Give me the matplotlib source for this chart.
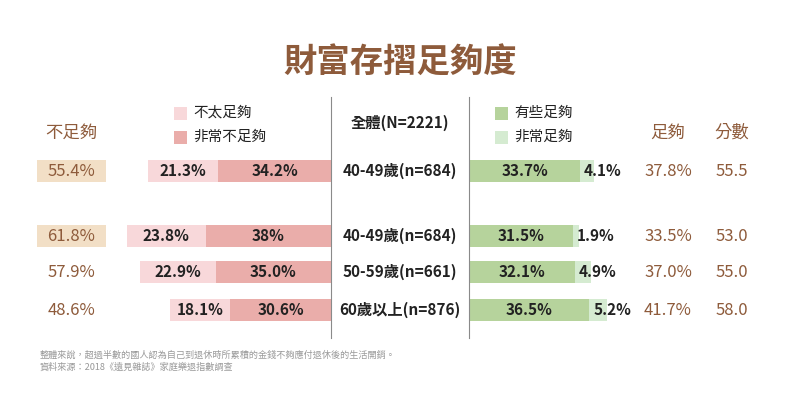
import matplotlib.pyplot as plt
from matplotlib.patches import Rectangle
from matplotlib.transforms import blended_transform_factory

plt.rcParams['font.family'] = ['Noto Sans CJK TC', 'DejaVu Sans']

# datos
grupos = ['40-49歲(n=684)', '40-49歲(n=684)', '50-59歲(n=661)', '60歲以上(n=876)']
no_tanto = [21.3, 23.8, 22.9, 18.1]      # 不太足夠
nada = [34.2, 38.0, 35.0, 30.6]          # 非常不足夠
nada_txt = ['34.2%', '38%', '35.0%', '30.6%']
algo = [33.7, 31.5, 32.1, 36.5]          # 有些足夠
muy = [4.1, 1.9, 4.9, 5.2]               # 非常足夠
insuf = ['55.4%', '61.8%', '57.9%', '48.6%']
suf = ['37.8%', '33.5%', '37.0%', '41.7%']
puntaje = ['55.5', '53.0', '55.0', '58.0']
resaltar = [True, True, False, False]

W, H = 792, 398
filas = [0, 1.76, 2.73, 3.76]
esc = 3.3  # px por %

c_rosa1 = '#f8d8da'
c_rosa2 = '#eaadaa'
c_verde1 = '#b6d39c'
c_verde2 = '#d5ebd1'
c_beige = '#f2dfc6'
c_cafe = '#8e5b3b'
c_texto = '#222222'

fig = plt.figure(figsize=(W / 100, H / 100), dpi=100)

y0 = (H - 338) / H
alto = 241 / H
axL = fig.add_axes([0, y0, 331 / W, alto])
axR = fig.add_axes([469 / W, y0, 323 / W, alto])

for ax in (axL, axR):
    ax.set_ylim(-2.0 + 241 / 37, -2.0)
    ax.set_xticks([])
    ax.set_yticks([])
    for s in ax.spines.values():
        s.set_visible(False)
    ax.patch.set_alpha(0)

axL.set_xlim(331 / esc, 0)
axR.set_xlim(0, 323 / esc)
axL.spines['right'].set_visible(True)
axL.spines['right'].set_color('#8a8a8a')
axR.spines['left'].set_visible(True)
axR.spines['left'].set_color('#8a8a8a')

bh = 0.58
fs = 11
# barras izquierda
axL.barh(filas, nada, height=bh, color=c_rosa2)
axL.barh(filas, no_tanto, left=nada, height=bh, color=c_rosa1)
# barras derecha
axR.barh(filas, algo, height=bh, color=c_verde1)
axR.barh(filas, muy, left=algo, height=bh, color=c_verde2)

for i, y in enumerate(filas):
    axL.text(nada[i] / 2, y, nada_txt[i], ha='center', va='center',
             fontsize=fs, color=c_texto, weight='bold')
    axL.text(nada[i] + no_tanto[i] / 2, y, '%.1f%%' % no_tanto[i], ha='center',
             va='center', fontsize=fs, color=c_texto, weight='bold')
    axR.text(algo[i] / 2, y, '%.1f%%' % algo[i], ha='center', va='center',
             fontsize=fs, color=c_texto, weight='bold')
    axR.text(algo[i] + 1.1, y, '%.1f%%' % muy[i], ha='left', va='center',
             fontsize=fs, color=c_texto, weight='bold')

trf = blended_transform_factory(fig.transFigure, axL.transData)
for i, y in enumerate(filas):
    fig.text(400 / W, y, grupos[i], transform=trf, ha='center', va='center',
             fontsize=fs, color=c_texto, weight='bold')
    if resaltar[i]:
        fig.add_artist(Rectangle((37 / W, y - bh / 2), 69 / W, bh, transform=trf,
                                 facecolor=c_beige, edgecolor='none'))
    fig.text(71 / W, y, insuf[i], transform=trf, ha='center', va='center',
             fontsize=12, color=c_cafe)
    fig.text(668 / W, y, suf[i], transform=trf, ha='center', va='center',
             fontsize=12, color=c_cafe)
    fig.text(732 / W, y, puntaje[i], transform=trf, ha='center', va='center',
             fontsize=12, color=c_cafe)

# encabezados
fig.text(400 / W, 1 - 63 / H, '財富存摺足夠度', ha='center', va='center',
         fontsize=24, weight='bold', color=c_cafe)
fig.text(71 / W, 1 - 133 / H, '不足夠', ha='center', va='center', fontsize=12.5, color=c_cafe)
fig.text(668 / W, 1 - 133 / H, '足夠', ha='center', va='center', fontsize=12.5, color=c_cafe)
fig.text(732 / W, 1 - 133 / H, '分數', ha='center', va='center', fontsize=12.5, color=c_cafe)
fig.text(400 / W, 1 - 123 / H, '全體(N=2221)', ha='center', va='center',
         fontsize=fs, color=c_texto, weight='bold')

# leyendas
ley = [(174, 113, c_rosa1, '不太足夠'), (174, 137, c_rosa2, '非常不足夠'),
       (495, 113, c_verde1, '有些足夠'), (495, 137, c_verde2, '非常足夠')]
for x, y, c, t in ley:
    fig.add_artist(Rectangle((x / W, 1 - (y + 6.5) / H), 13 / W, 13 / H,
                             transform=fig.transFigure, facecolor=c, edgecolor='none'))
    fig.text((x + 19) / W, 1 - y / H, t, ha='left', va='center', fontsize=10.5, color=c_texto)

# notas
fig.text(40 / W, 1 - 355 / H, '整體來說，超過半數的國人認為自己到退休時所累積的金錢不夠應付退休後的生活開銷。',
         ha='left', va='center', fontsize=6.6, color='#999999')
fig.text(40 / W, 1 - 367 / H, '資料來源：2018《遠見雜誌》家庭樂退指數調查',
         ha='left', va='center', fontsize=6.6, color='#999999')

fig.savefig('out.png', dpi=100)
